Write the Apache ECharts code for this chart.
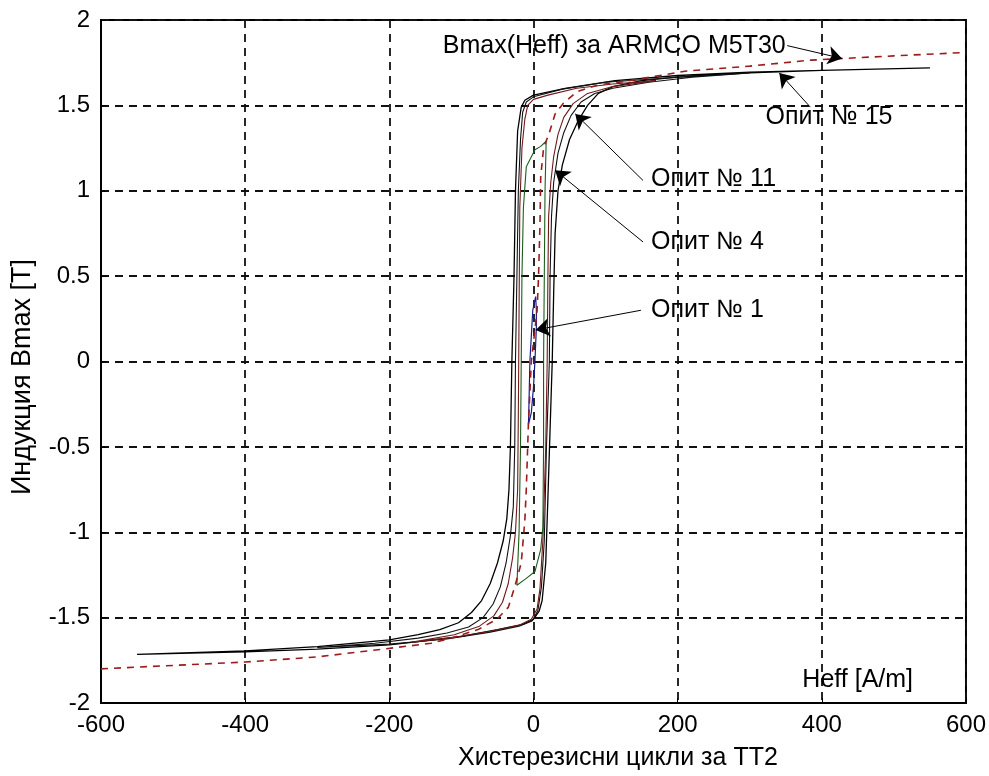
<!DOCTYPE html>
<html>
<head>
<meta charset="utf-8">
<script src="https://cdn.jsdelivr.net/npm/echarts@6/dist/echarts.min.js"></script>
<style>
html,body{margin:0;padding:0;background:#fff;}
#chart{width:989px;height:776px;}
</style>
</head>
<body>
<div id="chart"></div>
<script>
// ---- Data (H in A/m, B in T) ----
const xTickInterval = 200;
const yTickInterval = 0.5;

const armcoCurve = [[-600,-1.80],[-500,-1.78],[-400,-1.76],[-300,-1.73],[-200,-1.68],[-142,-1.65],[-114,-1.62],[-77,-1.57],[-51,-1.51],[-35,-1.44],[-26,-1.32],[-17,-1.18],[-12,-0.93],[-10,-0.75],[-7,-0.36],[-3,0],[5,0.3],[7,0.5],[9,0.8],[10,1.08],[14,1.25],[22,1.34],[30,1.45],[41,1.51],[60,1.58],[90,1.62],[127,1.64],[210,1.70],[300,1.73],[385,1.765],[500,1.79],[600,1.81]];

const loop15Desc = [[550,1.72],[400,1.705],[300,1.695],[200,1.675],[113,1.645],[44,1.60],[0,1.56],[-12,1.53],[-17,1.49],[-22,1.35],[-25,1.0],[-27,0.5],[-30,0],[-32,-0.5],[-34,-0.75],[-37,-0.92],[-42,-1.05],[-50,-1.18],[-60,-1.30],[-72,-1.40],[-86,-1.47],[-104,-1.53],[-130,-1.57],[-160,-1.60],[-200,-1.63],[-300,-1.67],[-400,-1.695],[-550,-1.715]];
const loop15Asc = [[-550,-1.715],[-400,-1.70],[-300,-1.685],[-200,-1.66],[-160,-1.64],[-100,-1.61],[-50,-1.57],[-15,-1.54],[0,-1.51],[8,-1.46],[12,-1.40],[17,-1.18],[20,-0.8],[23,-0.4],[26,0],[28,0.4],[30,0.75],[34,1.0],[40,1.15],[50,1.30],[62,1.41],[75,1.50],[90,1.57],[110,1.61],[150,1.645],[200,1.665],[300,1.69],[400,1.705],[550,1.72]];

const loop11Desc = [[300,1.69],[200,1.665],[100,1.635],[40,1.595],[0,1.55],[-10,1.52],[-15,1.46],[-18,1.3],[-21,1.0],[-23,0.5],[-25,0],[-26,-0.5],[-28,-0.85],[-32,-1.02],[-38,-1.18],[-46,-1.32],[-56,-1.42],[-70,-1.50],[-90,-1.555],[-120,-1.59],[-160,-1.62],[-220,-1.65],[-300,-1.675]];
const loop11Asc = [[-300,-1.675],[-200,-1.655],[-120,-1.625],[-60,-1.585],[-20,-1.55],[-2,-1.52],[6,-1.46],[11,-1.32],[15,-1.05],[18,-0.5],[22,0],[23,0.5],[25,0.85],[28,1.05],[34,1.22],[42,1.34],[52,1.44],[66,1.52],[85,1.57],[110,1.60],[160,1.635],[220,1.665],[300,1.69]];

const loopBrownDesc = [[170,1.645],[110,1.625],[60,1.60],[20,1.56],[0,1.535],[-8,1.50],[-12,1.42],[-16,1.25],[-19,0.9],[-20,0.3],[-21,-0.3],[-22,-0.75],[-25,-1.0],[-29,-1.15],[-35,-1.30],[-43,-1.41],[-55,-1.49],[-75,-1.55],[-110,-1.60],[-170,-1.645]];
const loopBrownAsc = [[-170,-1.645],[-110,-1.615],[-60,-1.58],[-20,-1.545],[-3,-1.51],[5,-1.45],[9,-1.33],[13,-1.05],[17,-0.5],[19,0],[20,0.5],[21,0.85],[24,1.05],[28,1.20],[34,1.33],[42,1.43],[55,1.51],[75,1.57],[110,1.61],[170,1.645]];

const loop4Desc = [[17.6,1.29],[10,1.26],[2,1.24],[-10,1.14],[-14,0.9],[-16,0.5],[-17,0],[-18,-0.5],[-20,-1.0],[-23,-1.31]];
const loop4Asc = [[-23,-1.31],[-10,-1.27],[2,-1.23],[10,-1.1],[13,-0.97],[14,-0.5],[14,0],[15,0.5],[16,1.0],[17.6,1.29]];

const loop1Desc = [[3,0.38],[-1,0.3],[-3,0.15],[-5,0],[-6,-0.2],[-7,-0.37]];
const loop1Asc = [[-7,-0.37],[-3,-0.3],[0,-0.15],[2,0],[4,0.2],[4,0.3],[3,0.38]];

const annotationTexts = ['Bmax(Heff) за ARMCO M5T30','Опит № 15','Опит № 11','Опит № 4','Опит № 1','Heff [A/m]'];
const axisTitleX = 'Хистерезисни цикли за ТТ2';
const axisTitleY = 'Индукция Bmax [T]';

// ---- Chart ----
const FONT = '"Liberation Sans", Arial, sans-serif';
const chart = echarts.init(document.getElementById('chart'), null, {renderer:'canvas'});

function loopSeries(name, desc, asc, color, width){
  return {
    name, type:'line', data: desc.concat(asc.slice(1)),
    showSymbol:false, symbol:'none', smooth:false,
    lineStyle:{color, width}, silent:true, z:3
  };
}

const series = [
  {
    name:'ARMCO', type:'line', data: armcoCurve, showSymbol:false, symbol:'none',
    lineStyle:{color:'#9b1c1c', width:1.6, type:[7,6]}, silent:true, z:4
  },
  loopSeries('loop15', loop15Desc, loop15Asc, '#000', 1.3),
  loopSeries('loop11', loop11Desc, loop11Asc, '#111', 1.1),
  loopSeries('loopBrown', loopBrownDesc, loopBrownAsc, '#6e1a1a', 1.1),
  loopSeries('loop4', loop4Desc, loop4Asc, '#1d5c1d', 1.1),
  loopSeries('loop1', loop1Desc, loop1Asc, '#1a1a8c', 1.2),
  {
    name:'annotations', type:'line', data:[], silent:true, z:6,
    color:'#000',
    itemStyle:{color:'#000'},
    markLine:{
      silent:true, animation:false,
      symbol:['none','arrow'], symbolSize:14,
      label:{show:false},
      itemStyle:{color:'#000'},
      lineStyle:{color:'#000', width:1, type:'solid'},
      emphasis:{disabled:true},
      data:[
        [{coord:[352,1.85]},{coord:[428,1.775]}],
        [{coord:[384,1.49]},{coord:[341,1.69]}],
        [{coord:[152,1.06]},{coord:[58,1.45]}],
        [{coord:[152,0.70]},{coord:[30,1.12]}],
        [{coord:[149,0.30]},{coord:[3,0.185]}]
      ]
    },
    markPoint:{
      silent:true, animation:false, symbol:'circle', symbolSize:0,
      label:{show:true, color:'#000', fontSize:25, fontFamily:FONT},
      data:[
        {coord:[350,1.85], value:0, label:{formatter:annotationTexts[0], position:'left', distance:0}},
        {coord:[322,1.43], value:1, label:{formatter:annotationTexts[1], position:'right', distance:0}},
        {coord:[163,1.07], value:2, label:{formatter:annotationTexts[2], position:'right', distance:0}},
        {coord:[163,0.70], value:3, label:{formatter:annotationTexts[3], position:'right', distance:0}},
        {coord:[163,0.30], value:4, label:{formatter:annotationTexts[4], position:'right', distance:0}},
        {coord:[373,-1.865], value:5, label:{formatter:annotationTexts[5], position:'right', distance:0}}
      ]
    }
  }
];

chart.setOption({
  animation:false,
  backgroundColor:'#fff',
  grid:{left:101, right:21, top:20, bottom:73, show:true, borderColor:'#000', borderWidth:2, containLabel:false},
  xAxis:{
    type:'value', min:-600, max:600, interval:xTickInterval,
    axisLine:{show:true, onZero:false, lineStyle:{color:'#000', width:2}},
    axisTick:{show:true, inside:true, length:5, lineStyle:{color:'#000'}},
    axisLabel:{color:'#000', fontSize:24, fontFamily:FONT, margin:10},
    splitLine:{show:true, lineStyle:{color:'#111', width:1.8, type:[8,6]}}
  },
  yAxis:{
    type:'value', min:-2, max:2, interval:yTickInterval,
    axisLine:{show:true, onZero:false, lineStyle:{color:'#000', width:2}},
    axisTick:{show:true, inside:true, length:5, lineStyle:{color:'#000'}},
    axisLabel:{color:'#000', fontSize:24, fontFamily:FONT, margin:11},
    splitLine:{show:true, lineStyle:{color:'#111', width:1.8, type:[8,6]}}
  },
  graphic:[
    {type:'text', left:458, top:746, silent:true,
     style:{text:axisTitleX, fill:'#000', font:'25px ' + FONT}},
    {type:'text', x:9, y:377, rotation:Math.PI/2, silent:true,
     style:{text:axisTitleY, fill:'#000', font:'27px ' + FONT, align:'center', verticalAlign:'top'}}
  ],
  series
});
</script>
</body>
</html>
